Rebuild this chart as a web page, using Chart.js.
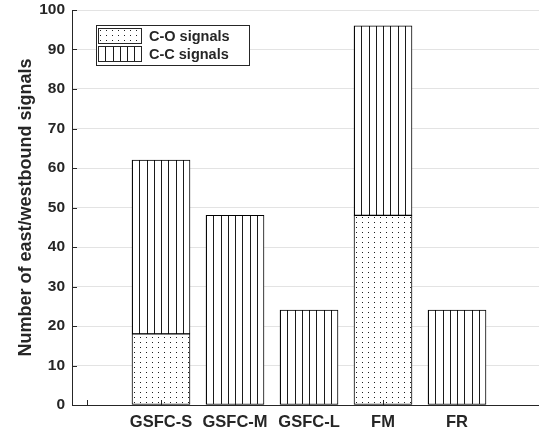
<!DOCTYPE html>
<html>
<head>
<meta charset="utf-8">
<script src="https://cdn.jsdelivr.net/npm/chart.js@4.4.1/dist/chart.umd.min.js"></script>
<style>
  html, body { margin: 0; padding: 0; background: #fff; overflow: hidden; }
  canvas { display: block; }
</style>
</head>
<body>
<canvas id="bar-chart" width="539" height="435"></canvas>
<script>
// data
const categories = ['GSFC-S', 'GSFC-M', 'GSFC-L', 'FM', 'FR'];
const coSignals = [18, 0, 0, 48, 0];
const ccSignals = [44, 48, 24, 48, 24];
const xTickLabels = ['', 'GSFC-S', 'GSFC-M', 'GSFC-L', 'FM', 'FR'];
const yTicks = [0, 10, 20, 30, 40, 50, 60, 70, 80, 90, 100];

const INK = '#262626';
const BAR_PX = 58;
Chart.defaults.font.family = '"Liberation Sans", Arial, Helvetica, sans-serif';
Chart.defaults.color = INK;

// hatch tiles (MATLAB-ish fills)
function dotTile() {
  const c = document.createElement('canvas');
  c.width = 6; c.height = 5;
  const g = c.getContext('2d');
  g.fillStyle = '#fff'; g.fillRect(0, 0, 6, 5);
  g.fillStyle = '#1e1e1e'; g.fillRect(2, 2, 1, 1);
  return c;
}
function lineTile() {
  const c = document.createElement('canvas');
  c.width = 29; c.height = 4;
  const g = c.getContext('2d');
  g.fillStyle = '#fff'; g.fillRect(0, 0, 29, 4);
  g.fillStyle = '#1a1a1a';
  [0, 7, 15, 22].forEach(x => g.fillRect(x, 0, 1, 4));
  return c;
}
const tiles = { 'C-O signals': dotTile(), 'C-C signals': lineTile() };

function patternAt(chartCtx, tile, left, top) {
  const pat = chartCtx.createPattern(tile, 'repeat');
  pat.setTransform(new DOMMatrix().translate(left, top));
  return pat;
}

// one pattern per bar, anchored at the bar's left edge
function barFill(tile) {
  return (ctx) => {
    const sx = ctx.chart.scales.x;
    if (!sx || ctx.type !== 'data') return '#fff';
    const left = Math.round(sx.getPixelForValue(ctx.raw.x)) - BAR_PX / 2;
    return patternAt(ctx.chart.ctx, tile, left, 0);
  };
}

const points = (vals) => vals.map((v, i) => ({ x: i + 1, y: v }));

// MATLAB style inward tick marks
const innerTicks = {
  id: 'innerTicks',
  afterDatasetsDraw(chart) {
    const { ctx, chartArea, scales } = chart;
    ctx.save();
    ctx.strokeStyle = INK;
    ctx.lineWidth = 1;
    ctx.beginPath();
    scales.x.ticks.forEach(t => {
      const px = Math.round(scales.x.getPixelForValue(t.value)) + 0.5;
      ctx.moveTo(px, chartArea.bottom);
      ctx.lineTo(px, chartArea.bottom - 5);
    });
    scales.y.ticks.forEach(t => {
      const py = Math.round(scales.y.getPixelForValue(t.value)) + 0.5;
      ctx.moveTo(chartArea.left, py);
      ctx.lineTo(chartArea.left + 5, py);
    });
    ctx.stroke();
    ctx.restore();
  }
};

// boxed legend in the upper left corner of the axes
const boxedLegend = {
  id: 'boxedLegend',
  afterDatasetsDraw(chart) {
    const { ctx, chartArea } = chart;
    const x0 = chartArea.left + 24, y0 = chartArea.top + 15;
    const w = 153, rowH = 18;
    const sets = chart.data.datasets;
    ctx.save();
    ctx.fillStyle = '#fff';
    ctx.fillRect(x0, y0, w, 4 + rowH * sets.length);
    ctx.strokeStyle = INK;
    ctx.lineWidth = 1;
    ctx.strokeRect(x0 + 0.5, y0 + 0.5, w, 4 + rowH * sets.length);
    ctx.font = 'bold 14.5px "Liberation Sans", Arial, sans-serif';
    ctx.textBaseline = 'middle';
    sets.forEach((ds, i) => {
      const sy = y0 + 3 + i * rowH;
      ctx.fillStyle = patternAt(ctx, tiles[ds.label], x0 + 2, sy);
      ctx.fillRect(x0 + 2, sy, 44, rowH - 2);
      ctx.strokeStyle = INK;
      ctx.strokeRect(x0 + 2.5, sy + 0.5, 43, rowH - 3);
      ctx.fillStyle = INK;
      ctx.fillText(ds.label, x0 + 53, sy + (rowH - 2) / 2 + 1);
    });
    ctx.restore();
  }
};

const ctxBar = document.getElementById('bar-chart').getContext('2d');
new Chart(ctxBar, {
  type: 'bar',
  data: {
    datasets: [
      {
        label: 'C-O signals',
        data: points(coSignals),
        backgroundColor: barFill(tiles['C-O signals']),
        borderColor: '#000',
        borderWidth: 1,
        borderSkipped: false,
        barThickness: BAR_PX
      },
      {
        label: 'C-C signals',
        data: points(ccSignals),
        backgroundColor: barFill(tiles['C-C signals']),
        borderColor: '#000',
        borderWidth: 1,
        borderSkipped: false,
        barThickness: BAR_PX
      }
    ]
  },
  options: {
    responsive: false,
    animation: false,
    devicePixelRatio: 1,
    layout: { padding: { top: 10, right: 0, bottom: 0, left: 0 } },
    plugins: {
      legend: { display: false },
      tooltip: { enabled: false }
    },
    scales: {
      x: {
        type: 'linear',
        stacked: true,
        offset: false,
        min: -15 / 74,
        max: 452 / 74,
        afterBuildTicks: s => { s.ticks = xTickLabels.map((_, i) => ({ value: i })); },
        afterFit: s => { s.height = 30; },
        grid: { display: false, drawTicks: false },
        border: { display: true, color: INK, width: 1 },
        ticks: {
          autoSkip: false,
          maxRotation: 0,
          padding: 8,
          color: INK,
          font: { size: 16.5, weight: 'bold' },
          callback: v => xTickLabels[v] ?? ''
        }
      },
      y: {
        stacked: true,
        min: 0,
        max: 100,
        afterBuildTicks: s => { s.ticks = yTicks.map(v => ({ value: v })); },
        afterFit: s => { s.width = 72; s.paddingTop = 9; s.paddingBottom = 0; },
        grid: { color: '#e3e3e3', lineWidth: 1, drawTicks: false },
        border: { display: true, color: INK, width: 1 },
        ticks: {
          padding: 7,
          color: INK,
          font: { size: 15.5, weight: 'bold' }
        },
        title: {
          display: true,
          text: 'Number of east/westbound signals',
          color: INK,
          font: { size: 18, weight: 'bold' },
          padding: { top: 15, bottom: 0 }
        }
      }
    }
  },
  plugins: [innerTicks, boxedLegend]
});
</script>
</body>
</html>
